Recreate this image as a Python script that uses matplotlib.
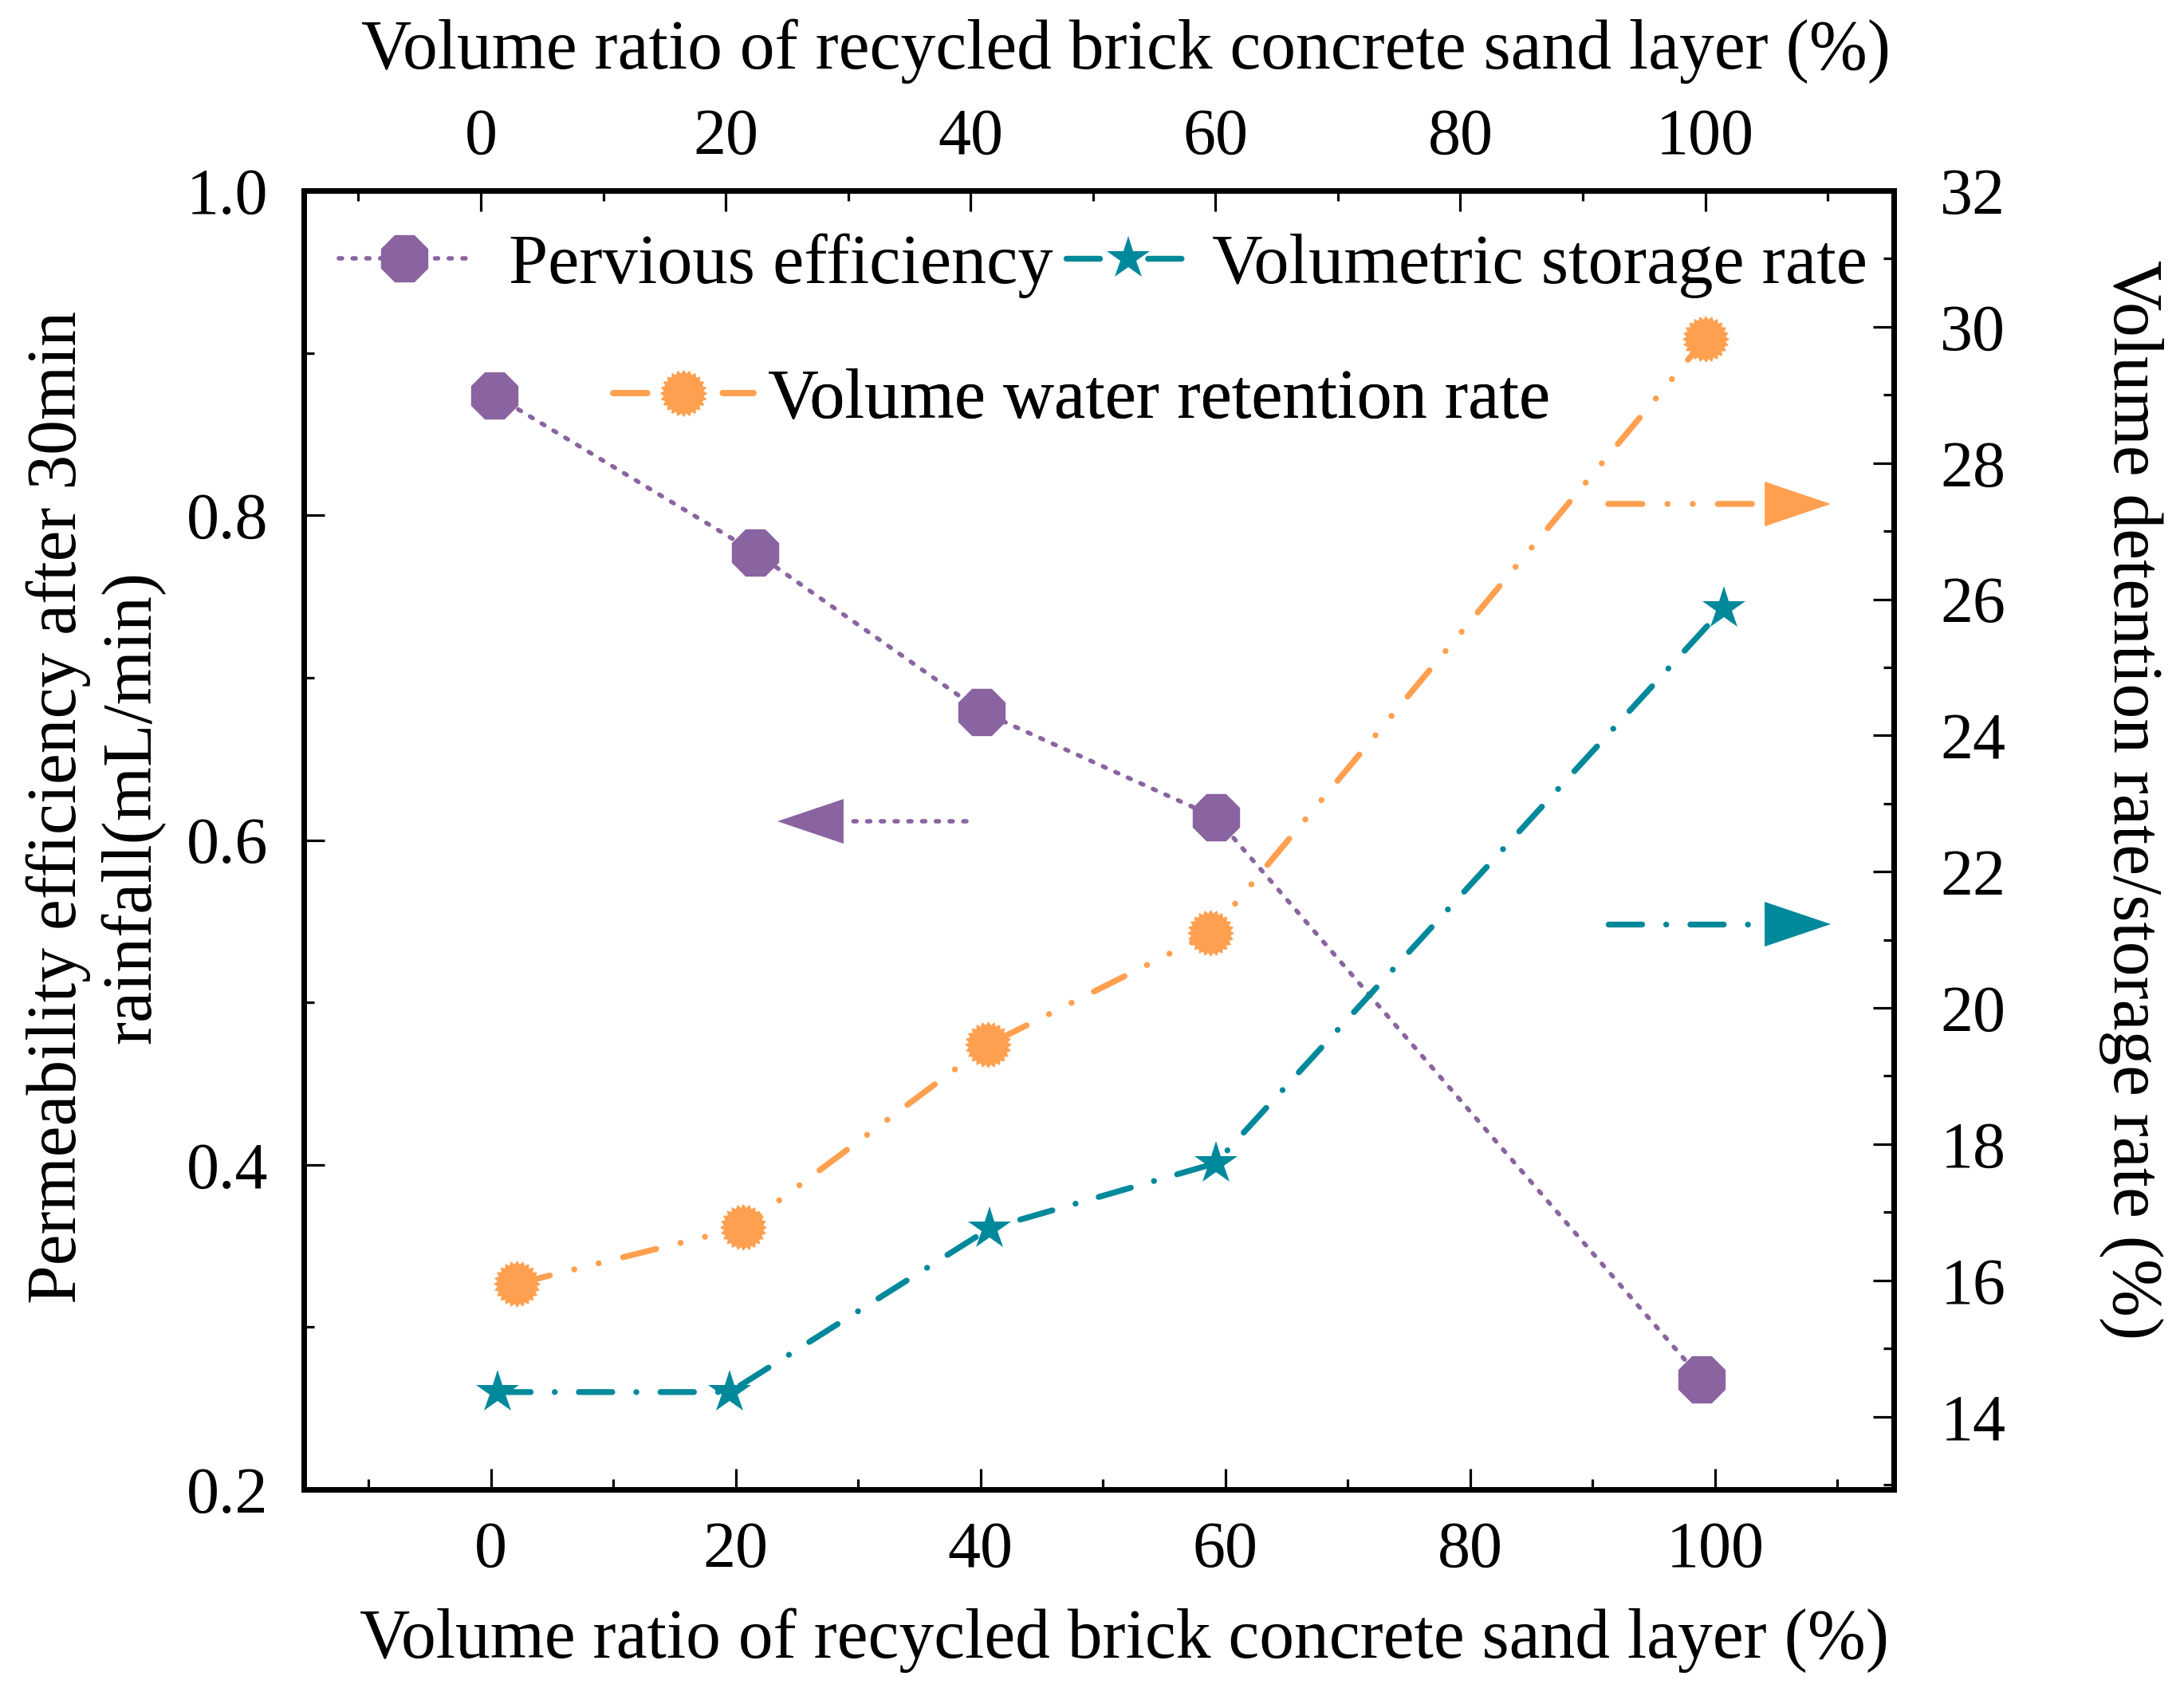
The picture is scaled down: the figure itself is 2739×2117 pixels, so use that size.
import numpy as np
import matplotlib
matplotlib.use("Agg")
import matplotlib.pyplot as plt
from matplotlib.path import Path
from matplotlib.patches import Polygon
from matplotlib.lines import Line2D
from matplotlib.ticker import MultipleLocator

plt.rcParams['font.family'] = ['Liberation Serif', 'DejaVu Serif']

# 数据
ratio_perv = [0.3, 21.6, 40.1, 59.2, 98.9]
pervious = [0.874, 0.777, 0.679, 0.614, 0.268]

ratio_ret = [2.1, 20.6, 40.6, 58.8, 99.2]
retention = [15.95, 16.78, 19.46, 21.10, 29.82]

ratio_sto = [0.5, 19.5, 40.7, 59.2, 100.7]
storage = [14.36, 14.36, 16.76, 17.72, 25.87]

x_ticks = [0, 20, 40, 60, 80, 100]
left_ticks = [0.2, 0.4, 0.6, 0.8, 1.0]
right_ticks = [14, 16, 18, 20, 22, 24, 26, 28, 30, 32]

xlabel = "Volume ratio of recycled brick concrete sand layer (%)"
ylabel_left = "Permeability efficiency after 30min\nrainfall(mL/min)"
ylabel_right = "Volume detention rate/storage rate (%)"

purple = '#8A64A0'
orange = '#FFA050'
teal = '#00889B'

# 太阳形标记
n = 24
ang = np.linspace(0, 2 * np.pi, 2 * n, endpoint=False) + np.pi / 2
rad = np.where(np.arange(2 * n) % 2 == 0, 1.0, 0.84)
verts = np.column_stack([rad * np.cos(ang), rad * np.sin(ang)])
verts = np.vstack([verts, verts[:1]])
codes = [Path.MOVETO] + [Path.LINETO] * (2 * n - 1) + [Path.CLOSEPOLY]
sun = Path(verts, codes)

W, H = 2739, 2117
fig = plt.figure(figsize=(W / 100, H / 100), dpi=100)
ax = fig.add_axes([381 / W, 1 - 1868 / H, (2375 - 381) / W, (1868 - 239) / H])
ax2 = ax.twinx()
ax3 = ax.twiny()

lw_p, lw_o, lw_t = 4.0, 5.4, 5.3
dot_style = dict(dashes=(0.7, 2.4), dash_capstyle='round')
ddd_style = dict(dashes=(5.7, 4.2, 0.01, 4.2, 0.01, 4.2), dash_capstyle='round')
dd_style = dict(dashes=(5.7, 4.1, 0.01, 4.1), dash_capstyle='round')

l_perv, = ax.plot(ratio_perv, pervious, color=purple, lw=lw_p, marker='8',
                  ms=45, mec=purple, mfc=purple, **dot_style)
l_ret, = ax2.plot(ratio_ret, retention, color=orange, lw=lw_o, marker=sun,
                  ms=42.5, mec=orange, mfc=orange, mew=0, **ddd_style)
l_sto, = ax2.plot(ratio_sto, storage, color=teal, lw=lw_t, marker='*',
                  ms=41, mec=teal, mfc=teal, mew=0, **dd_style)

# 坐标轴范围
ax.set_xlim(-15.3, 114.6)
ax.set_ylim(0.2, 1.0)
ax2.set_ylim(12.93, 32)
ax3.set_xlim(-14.46, 115.4)

ax.set_xticks(x_ticks)
ax.xaxis.set_minor_locator(MultipleLocator(10))
ax3.set_xticks(x_ticks)
ax3.xaxis.set_minor_locator(MultipleLocator(10))
ax.set_yticks(left_ticks)
ax.set_yticklabels([f"{v:.1f}" for v in left_ticks])
ax.yaxis.set_minor_locator(MultipleLocator(0.1))
ax2.set_yticks(right_ticks)
ax2.yaxis.set_minor_locator(MultipleLocator(1))

for a in (ax, ax2, ax3):
    a.tick_params(which='major', direction='in', length=19, width=2.3, labelsize=59)
    a.tick_params(which='minor', direction='in', length=9.5, width=2.3)
    for sp in a.spines.values():
        sp.set_linewidth(5)
ax.tick_params(axis='y', pad=32)
ax.tick_params(axis='x', pad=28)
ax2.tick_params(axis='y', pad=42)
ax3.tick_params(axis='x', pad=20)

# 轴标题
ax.set_xlabel(xlabel, fontsize=63)
ax.xaxis.set_label_coords(0.516, -0.091)
ax3.set_xlabel(xlabel, fontsize=63)
ax3.xaxis.set_label_coords(0.517, 1.094)
ax.set_ylabel(ylabel_left, fontsize=63, linespacing=1.2)
ax.yaxis.set_label_coords(-0.087, 0.525)
ax2.set_ylabel(ylabel_right, fontsize=63, rotation=270, va='bottom')
ax2.yaxis.set_label_coords(1.129, 0.531)

# 指示箭头（轴坐标）
def arrow(a, x0, xb, xt, y, color, lw, style):
    a.add_line(Line2D([x0, xb], [y, y], transform=a.transAxes, color=color,
                      lw=lw, **style))
    hh = 0.0172
    a.add_patch(Polygon([[xb, y - hh], [xb, y + hh], [xt, y]], closed=True,
                        transform=a.transAxes, color=color, lw=0))

arrow(ax3, 0.4167, 0.3395, 0.2979, 0.5144, purple, lw_p, dot_style)
arrow(ax3, 0.8205, 0.9188, 0.9604, 0.7587, orange, lw_o, ddd_style)
arrow(ax3, 0.8205, 0.9188, 0.9604, 0.4352, teal, lw_t, dd_style)

# 图例：三个单项图例，分别定位
legend_items = [
    (l_perv, 'Pervious efficiency', 425, 333, 1.87, 0.55),
    (l_sto, 'Volumetric storage rate', 1337, 333, 1.77, 0.3),
    (l_ret, 'Volume water retention rate', 769, 502, 2.0, 0.2),
]
for handle, text, px, py, hl, tp in legend_items:
    leg = ax3.legend([handle], [text], loc='center left',
                     bbox_to_anchor=(px / W, 1 - py / H),
                     bbox_transform=fig.transFigure, frameon=False, fontsize=63.5,
                     handlelength=hl, handletextpad=tp,
                     borderpad=0, borderaxespad=0)
    ax3.add_artist(leg)

fig.savefig('out.png', dpi=100, facecolor='white')
